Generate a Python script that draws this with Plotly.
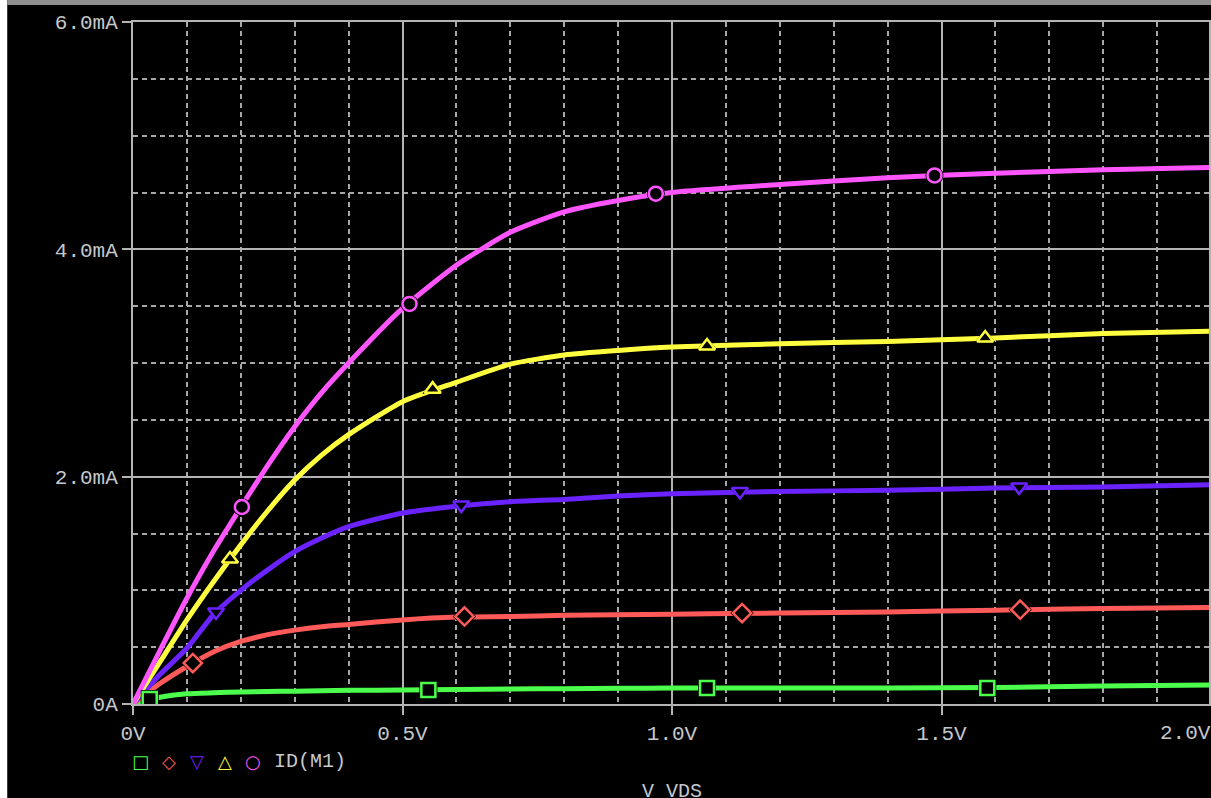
import plotly.graph_objects as go

# ---------------- data (V_DS in volts, I_D in mA) ----------------
vds = [0.0, 0.05, 0.1, 0.15, 0.2, 0.25, 0.3, 0.35, 0.4, 0.5, 0.6, 0.7, 0.8, 0.9,
       1.0, 1.2, 1.4, 1.6, 1.8, 2.0]

id_green   = [0.0, 0.06, 0.09, 0.10, 0.105, 0.11, 0.113, 0.117, 0.12, 0.123, 0.127, 0.132, 0.135, 0.138,
              0.14, 0.141, 0.141, 0.145, 0.158, 0.167]
id_red     = [0.0, 0.18, 0.33, 0.46, 0.55, 0.61, 0.65, 0.68, 0.70, 0.74, 0.765, 0.77, 0.78, 0.785,
              0.79, 0.80, 0.81, 0.825, 0.84, 0.85]
id_blue    = [0.0, 0.26, 0.49, 0.79, 1.00, 1.18, 1.34, 1.46, 1.56, 1.68, 1.74, 1.78, 1.80, 1.83,
              1.85, 1.87, 1.88, 1.90, 1.91, 1.93]
id_yellow  = [0.0, 0.37, 0.74, 1.08, 1.40, 1.70, 1.97, 2.19, 2.37, 2.66, 2.83, 2.99, 3.07, 3.11,
              3.14, 3.17, 3.19, 3.22, 3.26, 3.28]
id_magenta = [0.0, 0.47, 0.93, 1.35, 1.73, 2.10, 2.44, 2.74, 3.00, 3.48, 3.86, 4.15, 4.33, 4.43,
              4.50, 4.57, 4.63, 4.67, 4.70, 4.72]

# marker positions (PSpice places a symbol every N samples)
mk_green_v,   mk_green_i   = [0.031, 0.548, 1.065, 1.585], [0.044, 0.123, 0.141, 0.141]
mk_red_v,     mk_red_i     = [0.111, 0.615, 1.130, 1.646], [0.36, 0.77, 0.80, 0.83]
mk_blue_v,    mk_blue_i    = [0.154, 0.609, 1.126, 1.644], [0.81, 1.75, 1.87, 1.91]
mk_yellow_v,  mk_yellow_i  = [0.180, 0.556, 1.065, 1.581], [1.276, 2.77, 3.15, 3.22]
mk_magenta_v, mk_magenta_i = [0.202, 0.513, 0.970, 1.487], [1.733, 3.52, 4.49, 4.65]

x_tickvals = [0.0, 0.5, 1.0, 1.5]
x_ticktext = ["0V", "0.5V", "1.0V", "1.5V"]
y_tickvals = [0, 2, 4, 6]
y_ticktext = ["0A", "2.0mA", "4.0mA", "6.0mA"]
legend_label = "ID(M1)"
x_title = "V_VDS"

# ---------------- styling ----------------
W, H = 1211, 798
L, R, T, B = 133, 0, 22, 94
PX_PER_V = 540.0
x_max = (W - L - R) / PX_PER_V

FONT = "Liberation Mono, Courier New, monospace"
TXT = "#c4c8cc"
MAJOR = "#b4b4b4"
MINOR = "#a8a8a8"

series = [
    (vds, id_green,   mk_green_v,   mk_green_i,   "#4cff4c", "square-open"),
    (vds, id_red,     mk_red_v,     mk_red_i,     "#ff5a5a", "diamond-open"),
    (vds, id_blue,    mk_blue_v,    mk_blue_i,    "#6a22ff", "triangle-down-open"),
    (vds, id_yellow,  mk_yellow_v,  mk_yellow_i,  "#ffff40", "triangle-up-open"),
    (vds, id_magenta, mk_magenta_v, mk_magenta_i, "#ff55ff", "circle-open"),
]

fig = go.Figure()
for xv, yv, mv, mi, col, sym in series:
    fig.add_trace(go.Scatter(x=xv, y=yv, mode="lines",
                             line=dict(color=col, width=5, shape="spline", smoothing=0.6),
                             hoverinfo="skip", showlegend=False))
for xv, yv, mv, mi, col, sym in series:
    base = sym.replace("-open", "")
    # black-filled symbol to break the line, then coloured outline
    fig.add_trace(go.Scatter(x=mv, y=mi, mode="markers",
                             marker=dict(symbol=base, size=18, color="black", line=dict(width=0)),
                             hoverinfo="skip", showlegend=False))
    fig.add_trace(go.Scatter(x=mv, y=mi, mode="markers",
                             marker=dict(symbol=sym, size=14, color=col, line=dict(width=2.5, color=col)),
                             hoverinfo="skip", showlegend=False))

def px_x(p):
    return (p - L) / (W - L - R)

def px_y(p):
    return 1 - (p - T) / (H - T - B)

annotations = []
# last x tick label (shifted to fit the window, as in PSpice)
annotations.append(dict(x=px_x(1160), y=px_y(733), xref="paper", yref="paper", text="2.0V",
                        showarrow=False, xanchor="left", yanchor="middle",
                        font=dict(family=FONT, size=21, color=TXT)))
# legend symbols
leg_syms = [("□", "#4cff4c", 141), ("◇", "#ff5a5a", 169), ("▽", "#6a22ff", 197),
            ("△", "#ffff40", 225), ("○", "#ff55ff", 253)]
for s, c, xp in leg_syms:
    annotations.append(dict(x=px_x(xp), y=px_y(761), xref="paper", yref="paper", text=s,
                            showarrow=False, xanchor="center", yanchor="middle",
                            font=dict(family="DejaVu Sans", size=18, color=c)))
annotations.append(dict(x=px_x(272), y=px_y(761), xref="paper", yref="paper", text=legend_label,
                        showarrow=False, xanchor="left", yanchor="middle",
                        font=dict(family=FONT, size=20, color=TXT)))
annotations.append(dict(x=px_x(673), y=px_y(791), xref="paper", yref="paper", text=x_title,
                        showarrow=False, xanchor="center", yanchor="middle",
                        font=dict(family=FONT, size=20, color=TXT)))

shapes = [
    # window chrome: white strip at left, grey strip at top
    dict(type="rect", xref="paper", yref="paper", x0=px_x(-5), x1=px_x(7), y0=px_y(H + 5), y1=px_y(-5),
         fillcolor="white", line=dict(width=0), layer="above"),
    dict(type="rect", xref="paper", yref="paper", x0=px_x(7), x1=px_x(W + 5), y0=px_y(5), y1=px_y(-5),
         fillcolor="#8e8e8e", line=dict(width=0), layer="above"),
]

fig.update_layout(
    width=W, height=H,
    margin=dict(l=L, r=R, t=T, b=B, pad=0),
    paper_bgcolor="black", plot_bgcolor="black",
    showlegend=False,
    annotations=annotations,
    shapes=shapes,
    xaxis=dict(range=[0, x_max], tickvals=x_tickvals, ticktext=x_ticktext,
               showgrid=True, gridcolor=MAJOR, gridwidth=1.5,
               minor=dict(dtick=0.1, tick0=0, showgrid=True, gridcolor=MINOR, griddash="5px,4px", gridwidth=1.5),
               showline=True, linecolor=MAJOR, linewidth=2, mirror=True,
               ticks="outside", ticklen=9, tickcolor=MAJOR, tickwidth=2,
               tickfont=dict(family=FONT, size=21, color=TXT),
               zeroline=False, fixedrange=True),
    yaxis=dict(range=[0, 6], tickvals=y_tickvals, ticktext=y_ticktext,
               showgrid=True, gridcolor=MAJOR, gridwidth=1.5,
               minor=dict(dtick=0.5, tick0=0, showgrid=True, gridcolor=MINOR, griddash="5px,4px", gridwidth=1.5),
               showline=True, linecolor=MAJOR, linewidth=2, mirror=True,
               ticks="outside", ticklen=9, tickcolor=MAJOR, tickwidth=2,
               tickfont=dict(family=FONT, size=21, color=TXT),
               zeroline=False, fixedrange=True),
)

fig.write_html("out.html", config={"displayModeBar": False},
               post_script="document.body.style.margin='0';document.body.style.overflow='hidden';"
                           "document.body.style.background='black';")
